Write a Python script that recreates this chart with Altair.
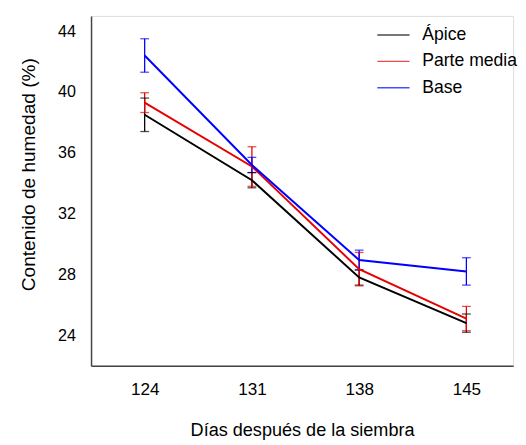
import altair as alt
import pandas as pd

days = [124, 131, 138, 145]
series = ["Ápice", "Parte media", "Base"]
apice = [38.5, 34.2, 27.8, 24.8]
apice_err = [1.1, 0.5, 0.5, 0.6]
media = [39.3, 35.1, 28.35, 25.1]
media_err = [0.65, 1.3, 1.1, 0.8]
base = [42.4, 35.2, 28.95, 28.2]
base_err = [1.1, 0.5, 0.65, 0.9]
colors = ["#000000", "#e60000", "#0000ff"]
y_ticks = [24, 28, 32, 36, 40, 44]

rows = []
for name, vals, errs in zip(series, [apice, media, base], [apice_err, media_err, base_err]):
    for d, v, e in zip(days, vals, errs):
        rows.append({"dia": d, "serie": name, "valor": v, "lo": v - e, "hi": v + e})
df = pd.DataFrame(rows)

FONT = "Liberation Sans"

xs = alt.Scale(domain=[120.5, 148.05], nice=False, zero=False)
ys = alt.Scale(domain=[22, 45], nice=False, zero=False)
cs = alt.Scale(domain=series, range=colors)

legend = alt.Legend(title=None, orient="none", legendX=292, legendY=2,
                    symbolType="stroke", symbolSize=1089, symbolStrokeWidth=1.5,
                    labelFont=FONT, labelFontSize=18, labelColor="#000",
                    labelOffset=12, rowPadding=-3, padding=0)
color_enc = alt.Color("serie:N", scale=cs, sort=series, legend=legend)

x_axis = alt.Axis(values=days, format="d", title="Días después de la siembra", grid=False, ticks=False,
                  labelFont=FONT, labelFontSize=17.5, labelColor="#000", labelPadding=15,
                  titleFont=FONT, titleFontSize=18.5, titleFontWeight="normal", titleColor="#000",
                  titlePadding=24, domainColor="#444", domainWidth=1.5)
y_axis = alt.Axis(values=y_ticks, title="Contenido de humedad (%)", grid=False, ticks=False,
                  labelFont=FONT, labelFontSize=16.5, labelColor="#000", labelPadding=16,
                  titleFont=FONT, titleFontSize=19.5, titleFontWeight="normal", titleColor="#000",
                  titlePadding=20, titleY=162, domainColor="#444", domainWidth=1.5)

base_chart = alt.Chart(df)

lines = base_chart.mark_line(strokeWidth=2).encode(
    x=alt.X("dia:Q", scale=xs, axis=x_axis),
    y=alt.Y("valor:Q", scale=ys, axis=y_axis),
    color=color_enc,
)

rules = base_chart.mark_rule(strokeWidth=1.3).encode(
    x=alt.X("dia:Q", scale=xs),
    y=alt.Y("lo:Q", scale=ys),
    y2="hi:Q",
    color=color_enc,
)
ticks_lo = base_chart.mark_tick(orient="horizontal", size=9, thickness=1.3).encode(
    x=alt.X("dia:Q", scale=xs),
    y=alt.Y("lo:Q", scale=ys),
    color=color_enc,
)
ticks_hi = base_chart.mark_tick(orient="horizontal", size=9, thickness=1.3).encode(
    x=alt.X("dia:Q", scale=xs),
    y=alt.Y("hi:Q", scale=ys),
    color=color_enc,
)

chart = alt.layer(rules, ticks_lo, ticks_hi, lines).properties(
    width=432, height=358,
    padding={"left": 10, "top": 3, "right": 0, "bottom": 0},
).configure_view(stroke=None).configure(background="white")

chart.save("out.html", embed_options={"renderer": "svg", "actions": False})
